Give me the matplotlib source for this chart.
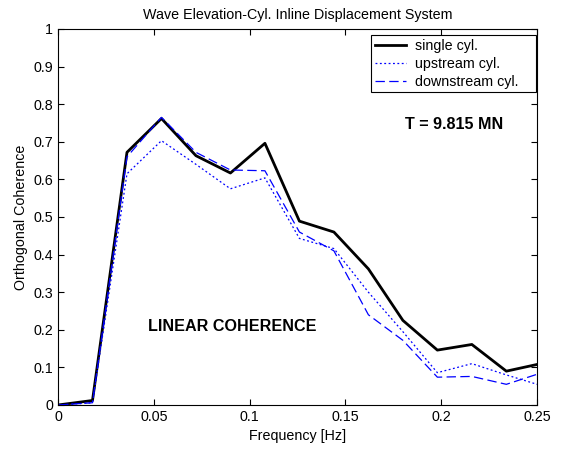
import matplotlib
matplotlib.use("Agg")
import matplotlib.pyplot as plt

freq = [0.0, 0.018, 0.036, 0.054, 0.072, 0.090, 0.108, 0.126, 0.144, 0.162, 0.180, 0.198, 0.216, 0.234, 0.252]
single = [0.0, 0.012, 0.672, 0.762, 0.663, 0.617, 0.696, 0.489, 0.460, 0.362, 0.225, 0.146, 0.161, 0.090, 0.110]
upstream = [0.0, 0.006, 0.615, 0.703, 0.640, 0.575, 0.604, 0.443, 0.416, 0.300, 0.195, 0.086, 0.110, 0.080, 0.052]
downstream = [0.0, 0.006, 0.660, 0.765, 0.672, 0.625, 0.623, 0.460, 0.410, 0.240, 0.172, 0.074, 0.076, 0.055, 0.085]

FS = 10.3
plt.rcParams['font.family'] = ['Liberation Sans', 'DejaVu Sans']
fig = plt.figure(figsize=(5.61, 4.5), dpi=100)
ax = fig.add_axes([58/561, 1-405/450, (537-58)/561, (405-29)/450])

ax.plot(freq, single, color='black', lw=2.0, label='single cyl.')
ax.plot(freq, upstream, color='blue', lw=0.9, linestyle=(0, (1.5, 2)), label='upstream cyl.')
ax.plot(freq, downstream, color='blue', lw=0.9, linestyle=(0, (7.5, 3.5)), label='downstream cyl.')

ax.set_xlim(0, 0.25)
ax.set_ylim(0, 1)
ax.set_xticks([0, 0.05, 0.1, 0.15, 0.2, 0.25])
ax.set_xticklabels(['0', '0.05', '0.1', '0.15', '0.2', '0.25'])
ax.set_yticks([i/10 for i in range(11)])
ax.set_yticklabels(['0', '0.1', '0.2', '0.3', '0.4', '0.5', '0.6', '0.7', '0.8', '0.9', '1'])
ax.tick_params(direction='in', top=True, right=True, labelsize=FS, length=4, width=0.8)
for s in ax.spines.values():
    s.set_linewidth(0.8)

ax.set_title('Wave Elevation-Cyl. Inline Displacement System', fontsize=FS, pad=7)
ax.set_xlabel('Frequency [Hz]', fontsize=FS, labelpad=4)
ax.set_ylabel('Orthogonal Coherence', fontsize=FS, labelpad=4)

ax.text(0.2065, 0.745, 'T = 9.815 MN', fontsize=11.6, fontweight='bold',
        ha='center', va='center')
ax.text(0.0908, 0.21, 'LINEAR COHERENCE', fontsize=11.6, fontweight='bold',
        ha='center', va='center')

x0 = (371-58)/479
x1 = (536-58)/479
y1 = (405-35)/376
leg = ax.legend(loc='upper left', bbox_to_anchor=(x0, y1 - 0.155, x1 - x0, 0.155), mode='expand',
                fontsize=FS, frameon=True, fancybox=False, framealpha=1,
                edgecolor='black', handlelength=2.2, handletextpad=0.6, borderaxespad=0,
                borderpad=0.25, labelspacing=0.28)
leg.get_frame().set_linewidth(0.8)

fig.savefig('out.png', dpi=100)
